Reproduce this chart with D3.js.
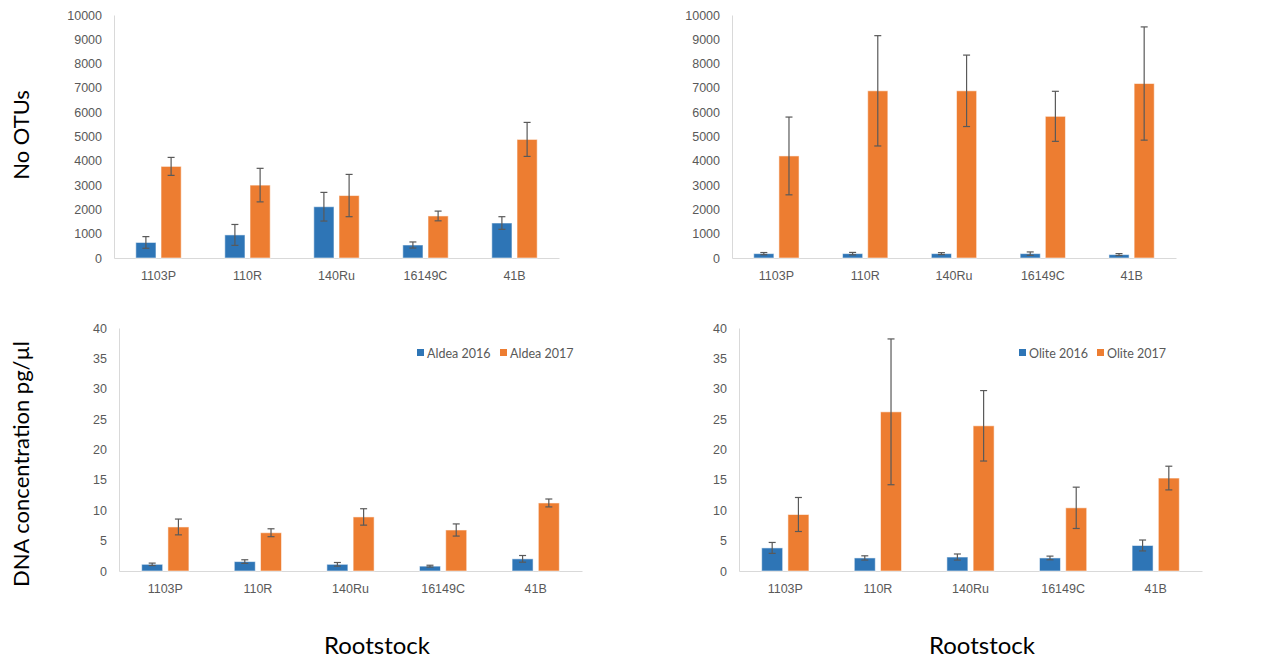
<!DOCTYPE html>
<html>
<head>
<meta charset="utf-8">
<script src="https://cdn.jsdelivr.net/npm/d3@7"></script>
<style>
  body { margin: 0; background: #fff; }
  svg { font-family: Lato, "Open Sans", sans-serif; }
  .tick text { fill: #595959; }
</style>
</head>
<body>
<svg id="chart" width="1261" height="661"></svg>
<script>
// categories (rootstocks)
const categories = ["1103P", "110R", "140Ru", "16149C", "41B"];

// No OTUs, Aldea
const aldeaOtu2016 = [640, 950, 2110, 535, 1440];
const aldeaOtu2016Err = [240, 430, 590, 125, 260];
const aldeaOtu2017 = [3770, 3000, 2570, 1730, 4880];
const aldeaOtu2017Err = [370, 690, 870, 200, 700];

// No OTUs, Olite
const oliteOtu2016 = [180, 180, 180, 180, 140];
const oliteOtu2016Err = [45, 50, 40, 70, 40];
const oliteOtu2017 = [4200, 6880, 6880, 5830, 7180];
const oliteOtu2017Err = [1600, 2270, 1470, 1030, 2330];

// DNA concentration pg/µl, Aldea
const aldeaDna2016 = [1.1, 1.55, 1.1, 0.8, 2.0];
const aldeaDna2016Err = [0.2, 0.3, 0.3, 0.15, 0.55];
const aldeaDna2017 = [7.25, 6.3, 8.9, 6.75, 11.2];
const aldeaDna2017Err = [1.3, 0.65, 1.35, 1.0, 0.65];

// DNA concentration pg/µl, Olite
const oliteDna2016 = [3.8, 2.15, 2.3, 2.15, 4.2];
const oliteDna2016Err = [0.9, 0.35, 0.5, 0.3, 0.9];
const oliteDna2017 = [9.3, 26.2, 23.9, 10.4, 15.3];
const oliteDna2017Err = [2.8, 12.0, 5.8, 3.4, 1.95];

const otuTicks = d3.range(0, 10001, 1000);
const dnaTicks = d3.range(0, 41, 5);

const seriesColors = ["#2E75B6", "#ED7D31"];

const svg = d3.select("#chart");

function drawPanel(cfg) {
    const g = svg.append("g")
        .attr("transform", `translate(${cfg.left},${cfg.top})`);

    const x0 = d3.scaleBand()
        .domain(categories)
        .range([0, cfg.width])
        .paddingInner(0.49)
        .paddingOuter(0.245);

    const x1 = d3.scaleBand()
        .domain([0, 1])
        .range([0, x0.bandwidth()])
        .paddingInner(0.2);

    const y = d3.scaleLinear()
        .domain([0, cfg.max])
        .range([cfg.height, 0]);

    // axes
    const yAxis = g.append("g")
        .call(d3.axisLeft(y)
            .tickValues(cfg.ticks)
            .tickFormat(d3.format("d"))
            .tickSize(0)
            .tickPadding(12));
    yAxis.select(".domain").attr("stroke", "#d9d9d9");
    yAxis.selectAll("text").style("font-size", "12.5px");

    const xAxis = g.append("g")
        .attr("transform", `translate(0,${cfg.height})`)
        .call(d3.axisBottom(x0)
            .tickSize(0)
            .tickPadding(13));
    xAxis.select(".domain").attr("stroke", "#d9d9d9");
    xAxis.selectAll("text").style("font-size", "12.5px");

    // bars
    cfg.series.forEach((s, i) => {
        const rows = categories.map((c, k) => ({ c, v: s.values[k], e: s.errors[k] }));
        const grp = g.append("g");

        grp.selectAll("rect")
            .data(rows)
            .join("rect")
            .attr("x", d => x0(d.c) + x1(i))
            .attr("y", d => y(d.v))
            .attr("width", x1.bandwidth())
            .attr("height", d => cfg.height - y(d.v))
            .attr("fill", seriesColors[i])
            .attr("stroke", "rgba(255,255,255,0.55)")
            .attr("stroke-width", 1);

        // error bars
        const eb = grp.selectAll("g.err")
            .data(rows)
            .join("g")
            .attr("class", "err")
            .attr("stroke", "#595959")
            .attr("stroke-width", 1.2);
        const cx = d => x0(d.c) + x1(i) + x1.bandwidth() / 2;
        eb.append("line")
            .attr("x1", cx).attr("x2", cx)
            .attr("y1", d => y(d.v + d.e))
            .attr("y2", d => y(Math.max(0, d.v - d.e)));
        eb.append("line")
            .attr("x1", d => cx(d) - 3.5).attr("x2", d => cx(d) + 3.5)
            .attr("y1", d => y(d.v + d.e)).attr("y2", d => y(d.v + d.e));
        eb.append("line")
            .attr("x1", d => cx(d) - 3.5).attr("x2", d => cx(d) + 3.5)
            .attr("y1", d => y(Math.max(0, d.v - d.e))).attr("y2", d => y(Math.max(0, d.v - d.e)));
    });

    // legend
    if (cfg.legend) {
        cfg.series.forEach((s, i) => {
            const lx = cfg.legend[i];
            g.append("rect")
                .attr("x", lx)
                .attr("y", 21)
                .attr("width", 7)
                .attr("height", 7)
                .attr("fill", seriesColors[i]);
            g.append("text")
                .attr("x", lx + 10)
                .attr("y", 30)
                .attr("fill", "#595959")
                .style("font-size", "12.5px")
                .text(s.name);
        });
    }
}

drawPanel({
    left: 114, top: 15, width: 445, height: 243, max: 10000, ticks: otuTicks,
    series: [
        { name: "Aldea 2016", values: aldeaOtu2016, errors: aldeaOtu2016Err },
        { name: "Aldea 2017", values: aldeaOtu2017, errors: aldeaOtu2017Err }
    ]
});

drawPanel({
    left: 732, top: 15, width: 444, height: 243, max: 10000, ticks: otuTicks,
    series: [
        { name: "Olite 2016", values: oliteOtu2016, errors: oliteOtu2016Err },
        { name: "Olite 2017", values: oliteOtu2017, errors: oliteOtu2017Err }
    ]
});

drawPanel({
    left: 119, top: 328, width: 463, height: 243, max: 40, ticks: dnaTicks,
    legend: [298, 381],
    series: [
        { name: "Aldea 2016", values: aldeaDna2016, errors: aldeaDna2016Err },
        { name: "Aldea 2017", values: aldeaDna2017, errors: aldeaDna2017Err }
    ]
});

drawPanel({
    left: 739, top: 328, width: 463, height: 243, max: 40, ticks: dnaTicks,
    legend: [280, 358],
    series: [
        { name: "Olite 2016", values: oliteDna2016, errors: oliteDna2016Err },
        { name: "Olite 2017", values: oliteDna2017, errors: oliteDna2017Err }
    ]
});

// axis titles
svg.append("text")
    .attr("transform", "translate(29,135) rotate(-90)")
    .attr("text-anchor", "middle")
    .style("font-size", "22px")
    .text("No OTUs");

svg.append("text")
    .attr("transform", "translate(29,464) rotate(-90)")
    .attr("text-anchor", "middle")
    .style("font-size", "22px")
    .text("DNA concentration pg/µl");

svg.append("text")
    .attr("x", 377).attr("y", 654)
    .attr("text-anchor", "middle")
    .style("font-size", "24px")
    .text("Rootstock");

svg.append("text")
    .attr("x", 982).attr("y", 654)
    .attr("text-anchor", "middle")
    .style("font-size", "24px")
    .text("Rootstock");
</script>
</body>
</html>
